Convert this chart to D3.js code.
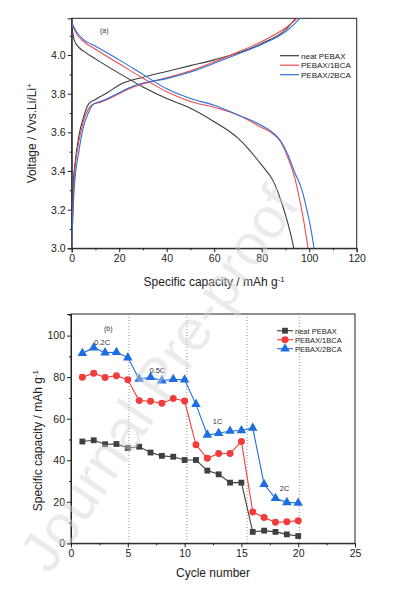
<!DOCTYPE html>
<html>
<head>
<meta charset="utf-8">
<script src="https://cdn.jsdelivr.net/npm/d3@7"></script>
<style>
  body { margin: 0; background: #fff; }
  svg { font-family: "Liberation Sans", Arial, sans-serif; }
  .axis text { font-size: 10.5px; fill: #222; }
  .axis path, .axis line { stroke: #222; }
</style>
</head>
<body>
<svg id="fig" width="397" height="589"></svg>
<script>
// 数据：充放电曲线 (容量 mAh/g, 电压 V)
const neatCharge = [[0,3.02],[0.5,3.3],[1.5,3.45],[3,3.58],[5,3.68],[7,3.745],[10,3.77],[15,3.805],[20,3.845],[30,3.885],[40,3.915],[50,3.945],[60,3.975],[70,4.01],[80,4.06],[90,4.13],[95,4.2]];
const bca1Charge = [[0,3.0],[1,3.35],[3,3.55],[5,3.66],[7,3.72],[9,3.745],[12,3.755],[16,3.775],[20,3.80],[25,3.83],[30,3.85],[40,3.882],[50,3.918],[60,3.965],[70,4.015],[80,4.07],[90,4.14],[96,4.2]];
const bca2Charge = [[0,3.0],[1,3.3],[3,3.5],[5,3.63],[7,3.7],[9,3.745],[12,3.76],[16,3.78],[20,3.805],[25,3.835],[30,3.855],[40,3.878],[50,3.912],[60,3.958],[70,4.005],[80,4.055],[90,4.12],[97,4.2]];
const neatDischarge = [[0,4.15],[1,4.08],[3,4.04],[5,4.02],[10,3.98],[20,3.905],[30,3.835],[40,3.775],[50,3.725],[60,3.655],[70,3.57],[80,3.43],[85,3.345],[88,3.25],[91,3.13],[93,3.03],[93.5,3.0]];
const bca1Discharge = [[0,4.16],[2,4.11],[5,4.07],[10,4.03],[20,3.955],[30,3.88],[40,3.81],[50,3.76],[60,3.73],[70,3.69],[80,3.625],[85,3.59],[88,3.55],[91,3.47],[94,3.36],[96,3.25],[98,3.12],[99.5,3.0]];
const bca2Discharge = [[0,4.17],[2,4.12],[5,4.08],[10,4.045],[20,3.975],[30,3.9],[40,3.825],[50,3.775],[60,3.74],[70,3.69],[80,3.635],[85,3.595],[88,3.555],[91,3.485],[94,3.39],[97,3.3],[99,3.2],[101,3.08],[102,3.0]];

// 数据：倍率性能
const cycles = d3.range(1, 21);
const neatRate = [49.0,49.6,47.7,47.8,45.9,46.5,43.7,42.1,41.7,40.1,40.1,35.0,33.2,29.2,29.2,5.5,6.1,5.5,4.3,3.5];
const bca1Rate = [79.9,81.9,79.8,80.7,78.7,68.7,68.4,67.4,69.7,68.5,47.4,40.9,43.2,43.2,49.0,15.1,12.4,10.1,10.4,10.9];
const bca2Rate = [91.5,94.2,91.8,92.0,89.4,79.1,79.9,78.3,79.0,78.7,66.9,52.2,53.0,54.1,54.3,55.5,28.4,21.7,19.7,19.4];
const rateSwitch = [5.1, 10.2, 15.5, 20.1];
const rateLabels = [["0.2C",2.75,95.5],["0.5C",7.6,82],["1C",12.9,57.4],["2C",18.8,25.2]];

const names = ["neat PEBAX", "PEBAX/1BCA", "PEBAX/2BCA"];
const colorsA = ["#3c3c3c", "#f24b4b", "#2a70e0"];
const colorsB = ["#3f3f3f", "#f23b3b", "#1d6ee0"];

const svg = d3.select("#fig");

// ---------- (a) 充放电曲线 ----------
const a = { l: 71.7, t: 18.3, r: 356.7, b: 248.3 };
const xa = d3.scaleLinear().domain([0, 120]).range([a.l, a.r]);
const ya = d3.scaleLinear().domain([3.0, 4.19]).range([a.b, a.t]);

svg.append("defs").append("clipPath").attr("id", "clipA")
  .append("rect").attr("x", a.l).attr("y", a.t).attr("width", a.r - a.l).attr("height", a.b - a.t);

const gA = svg.append("g");
gA.append("g").attr("class", "axis").attr("transform", `translate(0,${a.b})`)
  .call(d3.axisBottom(xa).tickValues(d3.range(0, 121, 20)).tickSize(4).tickPadding(2).tickFormat(d3.format("d")));
gA.append("g").attr("class", "axis").attr("transform", `translate(0,${a.b})`)
  .call(d3.axisBottom(xa).tickValues(d3.range(10, 120, 20)).tickSize(2).tickFormat(""))
  .select(".domain").remove();
gA.append("g").attr("class", "axis").attr("transform", `translate(${a.l},0)`)
  .call(d3.axisLeft(ya).tickValues([3.0,3.2,3.4,3.6,3.8,4.0]).tickSize(4).tickPadding(2).tickFormat(d3.format(".1f")));
gA.append("g").attr("class", "axis").attr("transform", `translate(${a.l},0)`)
  .call(d3.axisLeft(ya).tickValues([3.1,3.3,3.5,3.7,3.9,4.1]).tickSize(2).tickFormat(""))
  .select(".domain").remove();
gA.append("rect").attr("x", a.l).attr("y", a.t).attr("width", a.r - a.l).attr("height", a.b - a.t)
  .attr("fill", "none").attr("stroke", "#222");

const lineA = d3.line().x(d => xa(d[0])).y(d => ya(d[1])).curve(d3.curveMonotoneX);
const curveSets = [[neatCharge, neatDischarge], [bca1Charge, bca1Discharge], [bca2Charge, bca2Discharge]];
curveSets.forEach((set, i) => {
  set.forEach(c => {
    gA.append("path").datum(c).attr("clip-path", "url(#clipA)")
      .attr("d", lineA).attr("fill", "none").attr("stroke", colorsA[i]).attr("stroke-width", 1.1);
  });
});

gA.append("text").attr("x", 100).attr("y", 33).attr("font-size", 7).attr("fill", "#333").text("(a)");

names.forEach((n, i) => {
  const y = 55.7 + i * 9.5;
  gA.append("line").attr("x1", 280).attr("x2", 299).attr("y1", y).attr("y2", y)
    .attr("stroke", colorsA[i]).attr("stroke-width", 1.2);
  gA.append("text").attr("x", 301).attr("y", y + 2.8).attr("font-size", 8).attr("fill", "#222").text(n);
});

gA.append("text").attr("transform", `translate(36,${(a.t + a.b) / 2}) rotate(-90)`)
  .attr("text-anchor", "middle").attr("font-size", 12).attr("fill", "#222")
  .html('Voltage / Vvs.Li/Li<tspan dy="-4" font-size="8">+</tspan>');
gA.append("text").attr("x", (a.l + a.r) / 2).attr("y", 286).attr("text-anchor", "middle")
  .attr("font-size", 12).attr("fill", "#222")
  .html('Specific capacity / mAh g<tspan dy="-4" font-size="8">-1</tspan>');

// ---------- (b) 倍率性能 ----------
const b = { l: 71, t: 314, r: 355, b: 543.3 };
const xb = d3.scaleLinear().domain([0, 25]).range([b.l, b.r]);
const yb = d3.scaleLinear().domain([0, 110.4]).range([b.b, b.t]);

const gB = svg.append("g");
gB.append("g").attr("class", "axis").attr("transform", `translate(0,${b.b})`)
  .call(d3.axisBottom(xb).tickValues(d3.range(0, 26, 5)).tickSize(4).tickPadding(2));
gB.append("g").attr("class", "axis").attr("transform", `translate(0,${b.b})`)
  .call(d3.axisBottom(xb).tickValues(d3.range(2.5, 25, 5)).tickSize(2).tickFormat(""))
  .select(".domain").remove();
gB.append("g").attr("class", "axis").attr("transform", `translate(${b.l},0)`)
  .call(d3.axisLeft(yb).tickValues(d3.range(0, 101, 20)).tickSize(4).tickPadding(2));
gB.append("g").attr("class", "axis").attr("transform", `translate(${b.l},0)`)
  .call(d3.axisLeft(yb).tickValues(d3.range(10, 111, 20)).tickSize(2).tickFormat(""))
  .select(".domain").remove();
gB.append("rect").attr("x", b.l).attr("y", b.t).attr("width", b.r - b.l).attr("height", b.b - b.t)
  .attr("fill", "none").attr("stroke", "#222");

gB.selectAll(".vsep").data(rateSwitch).enter().append("line")
  .attr("x1", d => xb(d)).attr("x2", d => xb(d)).attr("y1", b.t).attr("y2", b.b)
  .attr("stroke", "#777").attr("stroke-width", 0.8).attr("stroke-dasharray", "1,2");

const series = [neatRate, bca1Rate, bca2Rate];
const lineB = d3.line().x((d, i) => xb(cycles[i])).y(d => yb(d));
const sym = [d3.symbolSquare, d3.symbolCircle, d3.symbolTriangle];
const symSize = [34, 38, 40];

series.forEach((s, i) => {
  gB.append("path").datum(s).attr("d", lineB).attr("fill", "none")
    .attr("stroke", colorsB[i]).attr("stroke-width", 1.1);
  gB.selectAll(".m" + i).data(s).enter().append("path")
    .attr("transform", (d, j) => `translate(${xb(cycles[j])},${yb(d)})`)
    .attr("d", d3.symbol(sym[i], symSize[i])).attr("fill", colorsB[i]);
});

gB.append("text").attr("x", 104).attr("y", 331).attr("font-size", 7).attr("fill", "#333").text("(b)");
rateLabels.forEach(r => {
  gB.append("text").attr("x", xb(r[1])).attr("y", yb(r[2])).attr("text-anchor", "middle")
    .attr("font-size", 7.5).attr("fill", "#333").text(r[0]);
});

names.forEach((n, i) => {
  const y = 330.7 + i * 9;
  gB.append("line").attr("x1", 277).attr("x2", 293).attr("y1", y).attr("y2", y)
    .attr("stroke", colorsB[i]).attr("stroke-width", 1.1);
  gB.append("path").attr("transform", `translate(285,${y})`)
    .attr("d", d3.symbol(sym[i], symSize[i])).attr("fill", colorsB[i]);
  gB.append("text").attr("x", 295).attr("y", y + 2.8).attr("font-size", 7.5).attr("fill", "#222").text(n);
});

gB.append("text").attr("transform", `translate(42,${(b.t + b.b) / 2 + 12}) rotate(-90)`)
  .attr("text-anchor", "middle").attr("font-size", 12).attr("fill", "#222")
  .html('Specific capacity / mAh g<tspan dy="-4" font-size="8">-1</tspan>');
gB.append("text").attr("x", (b.l + b.r) / 2).attr("y", 577).attr("text-anchor", "middle")
  .attr("font-size", 12).attr("fill", "#222").text("Cycle number");

// 水印
svg.append("text").attr("transform", "translate(175,390) rotate(-56)")
  .attr("text-anchor", "middle").attr("font-size", 58).attr("fill", "#d4d4d4").attr("opacity", 0.45)
  .text("Journal Pre-proof");
</script>
</body>
</html>
